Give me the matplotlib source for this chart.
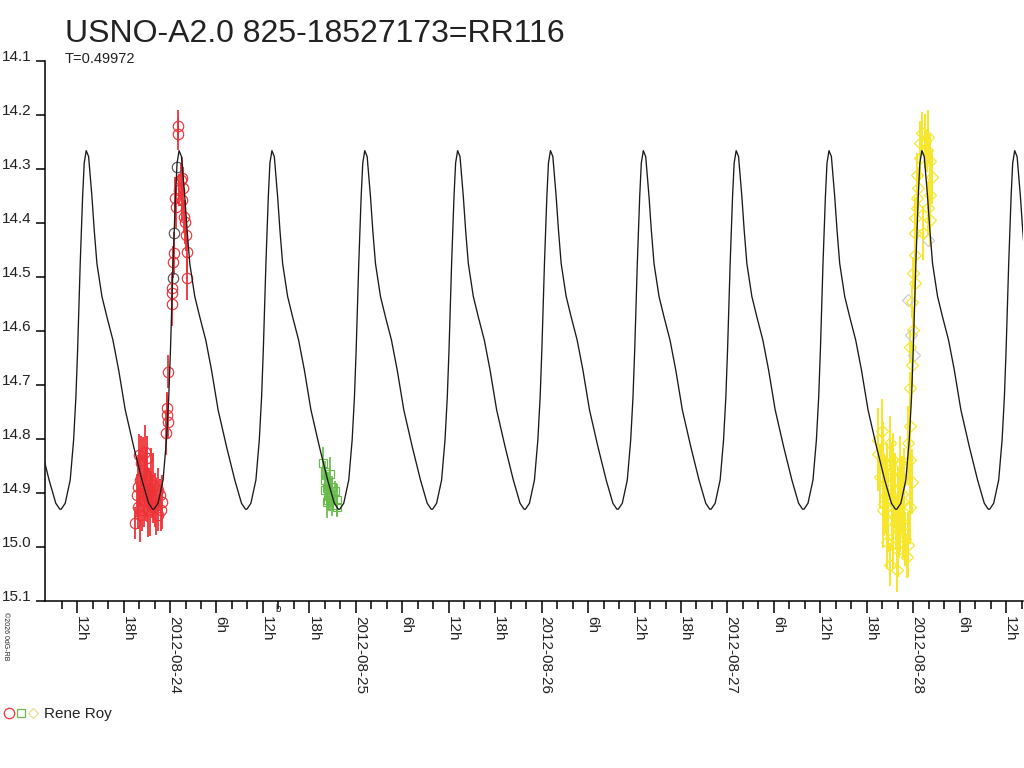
import numpy as np
import matplotlib
matplotlib.use("Agg")
import matplotlib.pyplot as plt
from matplotlib.lines import Line2D

plt.rcParams['font.family'] = ['Liberation Sans', 'DejaVu Sans']

# 光变曲线模型：一个周期的形状（相对极大的天数, 星等）
T = 0.49972
epoch = 25.048  # 极大时刻, 2012-08 的日
cyc_phase = [-0.1346, -0.1131, -0.0862, -0.0679, -0.0555, -0.0463, -0.0409, -0.0323,
             -0.0194, -0.0108, 0.0, 0.0129, 0.0307, 0.0431, 0.0576, 0.0845, 0.1115,
             0.1438, 0.1745, 0.2100, 0.2553, 0.2999, 0.3360, 0.3576]
cyc_mag = [14.930, 14.919, 14.876, 14.802, 14.722, 14.635, 14.574, 14.475,
           14.351, 14.289, 14.266, 14.277, 14.351, 14.413, 14.475, 14.536, 14.574,
           14.617, 14.672, 14.746, 14.814, 14.876, 14.919, 14.930]

# 观测 (日, 星等, 误差)
red_t = [23.8115, 23.8277, 23.8385, 23.8277, 23.8385, 23.8331, 23.8438, 23.8546, 23.8654, 23.8762,
         23.8654, 23.8762, 23.8869, 23.8600, 23.8923, 23.9031, 23.8815, 23.9085, 23.9192, 23.8492,
         23.8977, 23.8708, 23.9354, 23.9462, 23.9569, 23.9515, 23.9354, 23.8223, 23.9085, 23.9246,
         23.9785, 23.9908, 23.9822, 23.9822, 23.9908, 24.0092, 24.0092, 24.0092, 24.0145,
         24.0215, 24.0269, 24.0323, 24.0447, 24.0447, 24.0576, 24.0630, 24.0716, 24.0754,
         24.0808, 24.0862, 24.0899, 24.0899, 24.0646, 24.0485]
red_m = [14.956, 14.926, 14.941, 14.889, 14.876, 14.830, 14.844, 14.857, 14.824, 14.835,
         14.891, 14.904, 14.894, 14.913, 14.919, 14.907, 14.931, 14.926, 14.913, 14.931,
         14.876, 14.867, 14.894, 14.904, 14.917, 14.931, 14.941, 14.904, 14.885, 14.928,
         14.789, 14.768, 14.756, 14.743, 14.675, 14.550, 14.530, 14.521, 14.472,
         14.456, 14.354, 14.370, 14.220, 14.235, 14.320, 14.317, 14.336, 14.388,
         14.398, 14.422, 14.453, 14.502, 14.357, 14.339]
red_e = [0.03, 0.04, 0.05, 0.06, 0.05, 0.04, 0.05, 0.06, 0.05, 0.04,
         0.06, 0.05, 0.04, 0.05, 0.06, 0.04, 0.05, 0.03, 0.05, 0.04,
         0.06, 0.05, 0.04, 0.03, 0.05, 0.04, 0.03, 0.04, 0.06, 0.05,
         0.04, 0.03, 0.04, 0.03, 0.03, 0.04, 0.03, 0.03, 0.03,
         0.04, 0.04, 0.04, 0.03, 0.03, 0.03, 0.04, 0.04, 0.03,
         0.04, 0.03, 0.04, 0.04, 0.04, 0.03]

grey_red_t = [24.0215, 24.0145, 24.0361]
grey_red_m = [14.419, 14.502, 14.296]

green_t = [24.8255, 24.8347, 24.8616, 24.8347, 24.8524, 24.8438, 24.8708, 24.8885,
           24.8616, 24.8524, 24.8794, 24.8977, 24.8708, 24.8438, 24.8977, 24.8347]
green_m = [14.845, 14.861, 14.864, 14.876, 14.882, 14.891, 14.888, 14.897,
           14.904, 14.913, 14.910, 14.913, 14.922, 14.916, 14.925, 14.894]
green_e = [0.03, 0.02, 0.03, 0.02, 0.02, 0.03, 0.02, 0.02,
           0.03, 0.02, 0.02, 0.03, 0.02, 0.03, 0.02, 0.02]

yel_t = [27.8298, 27.8745, 27.8115, 27.8207, 27.8476, 27.8385, 27.8654, 27.8568, 27.8745, 27.9731,
         27.9822, 27.9914, 27.9822, 27.9731, 27.9822, 27.9284, 27.9375, 27.9461, 27.9192, 27.9106,
         27.8923, 27.8385, 27.8654, 27.9015, 27.9645, 27.8837, 27.8099, 27.8906, 27.9176, 27.9499,
         27.8584, 27.9284, 27.8530, 27.8810, 27.9050, 27.9400, 27.9560, 27.8960, 27.8450, 27.9230,
         27.9822, 27.9914, 27.9822, 28.0000, 27.9914, 28.0092, 28.0000, 28.0092, 28.0539,
         28.0092, 28.0900, 28.0092, 28.0183, 28.0808, 28.0183, 28.0900, 28.0269, 28.0183,
         28.0991, 28.0361, 28.0900, 28.0361, 28.0630, 28.0452, 28.0722, 28.0808]
yel_m = [14.786, 14.808, 14.827, 14.870, 14.882, 14.932, 14.950, 14.990, 15.033, 14.996,
         14.925, 14.879, 14.839, 14.808, 14.776, 14.845, 14.901, 14.962, 15.006, 15.043,
         14.981, 14.839, 14.913, 14.876, 15.018, 14.938, 14.802, 14.839, 14.922, 14.876,
         14.857, 14.950, 14.905, 14.865, 14.955, 14.915, 14.985, 14.895, 14.920, 14.970,
         14.706, 14.663, 14.629, 14.598, 14.546, 14.512, 14.493, 14.459, 14.419,
         14.419, 14.394, 14.391, 14.373, 14.373, 14.354, 14.348, 14.336, 14.311,
         14.314, 14.280, 14.286, 14.252, 14.249, 14.234, 14.265, 14.240]
yel_e = [0.06, 0.05, 0.07, 0.06, 0.05, 0.07, 0.06, 0.05, 0.04, 0.06,
         0.07, 0.06, 0.05, 0.07, 0.06, 0.05, 0.07, 0.06, 0.05, 0.04,
         0.06, 0.07, 0.06, 0.05, 0.04, 0.07, 0.06, 0.05, 0.07, 0.06,
         0.05, 0.06, 0.07, 0.06, 0.05, 0.06, 0.05, 0.07, 0.06, 0.05,
         0.03, 0.04, 0.03, 0.04, 0.03, 0.04, 0.03, 0.04, 0.05,
         0.04, 0.05, 0.04, 0.04, 0.05, 0.04, 0.05, 0.04, 0.04,
         0.05, 0.04, 0.05, 0.04, 0.05, 0.04, 0.04, 0.05]

grey_yel_t = [27.9876, 28.0038, 28.0792, 27.9715]
grey_yel_m = [14.607, 14.644, 14.431, 14.543]

RED = '#ee3338'
GREEN = '#66bb4a'
YELLOW = '#f7e62a'

fig = plt.figure(figsize=(10.24, 7.68), dpi=100)
ax = fig.add_axes([45 / 1024, 1 - 601 / 768, 978 / 1024, 540 / 768])

# 数据点
ax.errorbar(red_t, red_m, yerr=red_e, fmt='o', ms=7.5, mfc='none', mec=RED, mew=0.85,
            ecolor=RED, elinewidth=1.3, capsize=0, zorder=3)
ax.plot(grey_red_t, grey_red_m, 'o', ms=7.5, mfc='none', mec='#555555', mew=0.85, zorder=3)
ax.errorbar(green_t, green_m, yerr=green_e, fmt='s', ms=5.8, mfc='none', mec=GREEN, mew=0.85,
            ecolor=GREEN, elinewidth=1.2, capsize=0, zorder=3)
ax.errorbar(yel_t, yel_m, yerr=yel_e, fmt='D', ms=5.8, mfc='none', mec=YELLOW, mew=0.85,
            ecolor=YELLOW, elinewidth=1.4, capsize=0, zorder=3)
ax.plot(grey_yel_t, grey_yel_m, 'D', ms=5.8, mfc='none', mec='#cccccc', mew=0.85, zorder=3)

# 模型曲线，按周期平铺
xs, ys = [], []
for k in range(-4, 8):
    for p, m in zip(cyc_phase, cyc_mag):
        xs.append(epoch + k * T + p)
        ys.append(m)
ax.plot(xs, ys, color='#1a1a1a', lw=0.95, zorder=4)

ax.set_xlim(23.327, 28.5907)
ax.set_ylim(15.1, 14.1)

for s in ['top', 'right']:
    ax.spines[s].set_visible(False)
for s in ['left', 'bottom']:
    ax.spines[s].set_linewidth(1.1)

yt = np.round(np.arange(14.1, 15.15, 0.1), 1)
ax.set_yticks(yt)
ax.set_yticklabels(['%.1f' % v for v in yt], fontsize=11, va='baseline', color='#222222')
ax.tick_params(axis='y', direction='out', length=6.5, width=1.1, pad=3)

major = np.arange(23.5, 28.51, 0.25)
labels = []
for v in major:
    frac = round((v - np.floor(v)) * 24)
    if frac == 0:
        labels.append('2012-08-%02d' % int(round(v)))
    else:
        labels.append('%dh' % frac)
ax.set_xticks(major)
ax.set_xticklabels(labels, fontsize=11, rotation=270, rotation_mode='anchor',
                   ha='left', va='baseline', color='#222222')
ax.set_xticks(np.arange(23.5 - 1 / 12, 28.6, 1 / 12), minor=True)
ax.tick_params(axis='x', which='major', direction='out', length=8.5, width=1.1, pad=2)
ax.tick_params(axis='x', which='minor', direction='out', length=5.5, width=1.1)

fig.text(65 / 1024, 1 - 42 / 768, 'USNO-A2.0 825-18527173=RR116', fontsize=23,
         color='#222222', va='baseline')
fig.text(65 / 1024, 1 - 63 / 768, 'T=0.49972', fontsize=10.5, color='#222222', va='baseline')
fig.text(275 / 1024, 1 - 612 / 768, 'b', fontsize=7, color='#222222')
fig.text(2 / 1024, 1 - 612 / 768, '©2026 0dG-RB', fontsize=5, rotation=270,
         va='top', ha='left', color='#222222')

# 图例
fig.add_artist(Line2D([9 / 1024], [1 - 713 / 768], transform=fig.transFigure, marker='o',
                      ms=7.5, mfc='none', mec=RED, mew=0.9, ls='none'))
fig.add_artist(Line2D([21 / 1024], [1 - 713 / 768], transform=fig.transFigure, marker='s',
                      ms=5.8, mfc='none', mec=GREEN, mew=0.9, ls='none'))
fig.add_artist(Line2D([33 / 1024], [1 - 713 / 768], transform=fig.transFigure, marker='D',
                      ms=5.2, mfc='none', mec='#e8e090', mew=0.9, ls='none'))
fig.text(44 / 1024, 1 - 718 / 768, 'Rene Roy', fontsize=11, color='#222222', va='baseline')

fig.savefig('out.png', dpi=100)
